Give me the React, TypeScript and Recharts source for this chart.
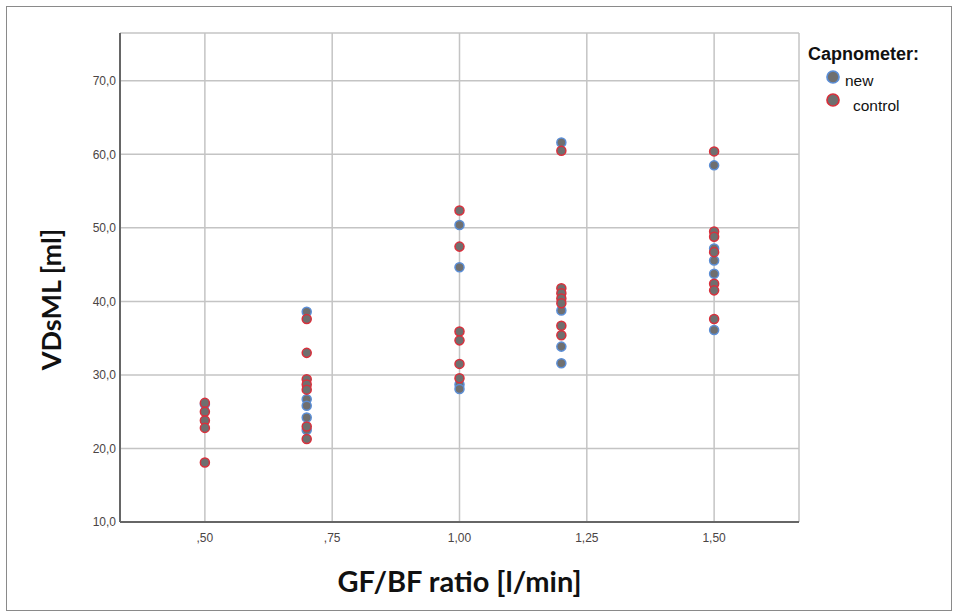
import React from "react";
import {
  ScatterChart,
  Scatter,
  XAxis,
  YAxis,
  CartesianGrid,
  Legend,
  Label,
} from "recharts";

// values, one pair per dot
const newX = [0.5, 0.7, 0.7, 0.7, 0.7, 0.7, 1.0, 1.0, 1.0, 1.0, 1.2, 1.2, 1.2, 1.2, 1.5, 1.5, 1.5, 1.5, 1.5];
const newY = [26.0, 38.6, 26.7, 25.8, 24.2, 22.5, 50.4, 44.65, 28.7, 28.1, 61.6, 38.75, 33.85, 31.6, 58.5, 47.2, 45.55, 43.75, 36.1];

const controlX = [
  0.5, 0.5, 0.5, 0.5, 0.5,
  0.7, 0.7, 0.7, 0.7, 0.7, 0.7, 0.7,
  1.0, 1.0, 1.0, 1.0, 1.0, 1.0,
  1.2, 1.2, 1.2, 1.2, 1.2, 1.2, 1.2,
  1.5, 1.5, 1.5, 1.5, 1.5, 1.5, 1.5,
];
const controlY = [
  26.2, 25.0, 23.8, 22.8, 18.1,
  37.6, 33.0, 29.4, 28.7, 28.0, 23.0, 21.3,
  52.35, 47.45, 35.9, 34.7, 31.5, 29.55,
  60.5, 41.8, 41.1, 40.4, 39.75, 36.7, 35.4,
  60.4, 49.5, 48.8, 46.7, 42.4, 41.5, 37.6,
];

const xTicks = [0.5, 0.75, 1.0, 1.25, 1.5];
const yTicks = [10, 20, 30, 40, 50, 60, 70];

const newData = newX.map((x, i) => ({ x, y: newY[i] }));
const controlData = controlX.map((x, i) => ({ x, y: controlY[i] }));

const FILL = "#6f6f6f";
const BLUE = "#5b8ed6";
const RED = "#d8303c";
const SANS = "'Liberation Sans', Arial, sans-serif";
const TITLE_FONT = "Lato, 'Open Sans', sans-serif";

const fmtX = (v: number) => v.toFixed(2).replace(".", ",").replace(/^0/, "");
const fmtY = (v: number) => v.toFixed(1).replace(".", ",");

function CapLegend() {
  const items = [
    { label: "new", color: BLUE, cy: 77, tx: 845, ty: 72 },
    { label: "control", color: RED, cy: 100, tx: 853, ty: 97 },
  ];
  return (
    <div style={{ position: "relative", width: 958, height: 130, fontFamily: SANS, color: "#111" }}>
      <div style={{ position: "absolute", left: 808, top: 44, fontWeight: "bold", fontSize: 18, lineHeight: "20px" }}>
        Capnometer:
      </div>
      {items.map((it) => (
        <React.Fragment key={it.label}>
          <svg width={16} height={16} style={{ position: "absolute", left: 825, top: it.cy - 8 }}>
            <circle cx={8} cy={8} r={6} fill={FILL} stroke={it.color} strokeWidth={1.7} />
          </svg>
          <div style={{ position: "absolute", left: it.tx, top: it.ty, fontSize: 15.5, lineHeight: "18px" }}>
            {it.label}
          </div>
        </React.Fragment>
      ))}
    </div>
  );
}

export default function App() {
  return (
    <div style={{ position: "absolute", left: 0, top: 0, width: 958, height: 614, background: "#fff" }}>
      <div
        style={{
          position: "absolute",
          left: 6,
          top: 6,
          width: 944,
          height: 603,
          border: "1px solid #8a8a8a",
        }}
      />
      <ScatterChart
        width={958}
        height={614}
        margin={{ top: 33, right: 159, bottom: 0, left: 0 }}
      >
        <CartesianGrid stroke="#c4c4c4" strokeWidth={1.5} />
        <XAxis
          type="number"
          dataKey="x"
          domain={[1 / 3, 5 / 3]}
          ticks={xTicks}
          tickFormatter={fmtX}
          height={92}
          tickLine={false}
          tickMargin={5}
          axisLine={{ stroke: "#666", strokeWidth: 2 }}
          tick={{ fill: "#4a4444", fontSize: 12, fontFamily: SANS }}
          allowDataOverflow
        >
          <Label
            value="GF/BF ratio [l/min]"
            position="insideBottom"
            offset={22}
            style={{ fontFamily: TITLE_FONT, fontWeight: "bold", fontSize: 29, fill: "#111" }}
          />
        </XAxis>
        <YAxis
          type="number"
          dataKey="y"
          domain={[10, 76.5]}
          ticks={yTicks}
          tickFormatter={fmtY}
          width={120}
          tickLine={false}
          tickSize={4}
          tickMargin={0}
          axisLine={{ stroke: "#666", strokeWidth: 2 }}
          tick={{ fill: "#4a4444", fontSize: 12, fontFamily: SANS }}
          allowDataOverflow
        >
          <Label
            content={({ viewBox }: any) => {
              const cx = viewBox.x + 50;
              const cy = viewBox.y + viewBox.height / 2 + 22;
              return (
                <text
                  x={cx}
                  y={cy}
                  transform={`rotate(-90 ${cx} ${cy})`}
                  textAnchor="middle"
                  dominantBaseline="central"
                  style={{ fontFamily: TITLE_FONT, fontWeight: "bold", fontSize: 27, fill: "#111" }}
                >
                  VDsML [ml]
                </text>
              );
            }}
          />
        </YAxis>
        <Legend
          layout="horizontal"
          verticalAlign="middle"
          align="center"
          wrapperStyle={{ top: 0, left: 0, width: 958, height: 130 }}
          content={() => <CapLegend />}
        />
        <Scatter
          name="new"
          data={newData}
          fill={FILL}
          stroke={BLUE}
          strokeWidth={1.5}
          isAnimationActive={false}
        />
        <Scatter
          name="control"
          data={controlData}
          fill={FILL}
          stroke={RED}
          strokeWidth={1.5}
          isAnimationActive={false}
        />
      </ScatterChart>
    </div>
  );
}
